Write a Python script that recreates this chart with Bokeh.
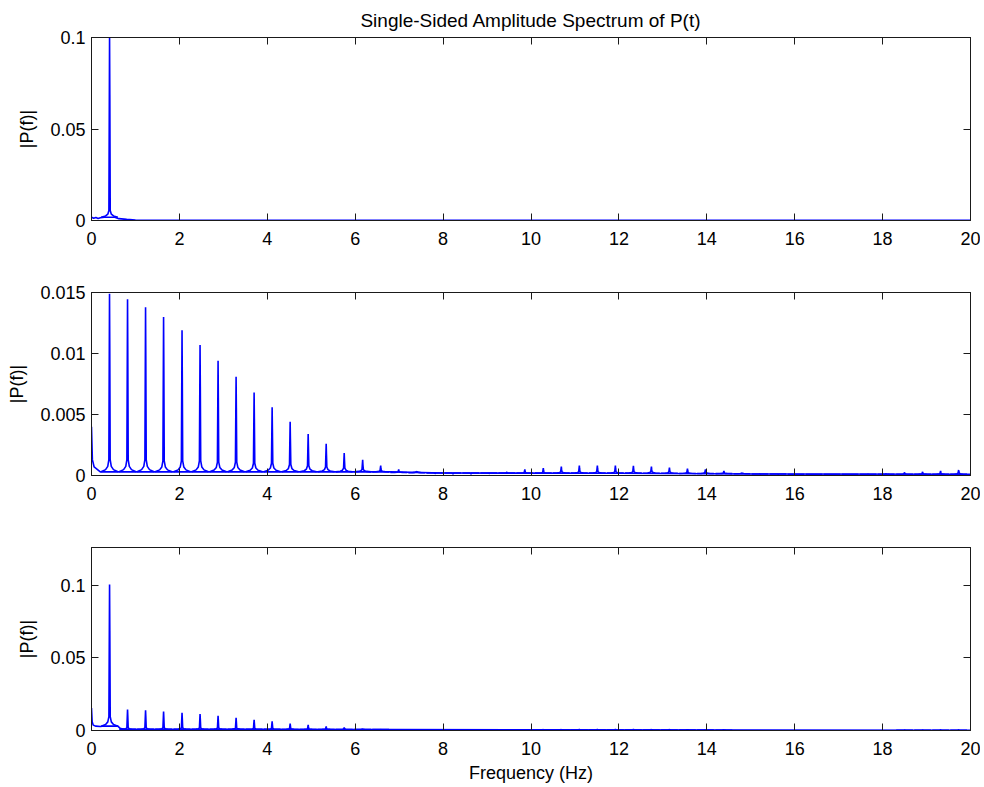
from bokeh.plotting import figure
from bokeh.layouts import column
from bokeh.models import LinearAxis, FixedTicker, CustomJSTickFormatter, Range1d
from bokeh.embed import file_html
from bokeh.resources import INLINE

# ---------------- data ----------------
title_text = "Single-Sided Amplitude Spectrum of P(t)"
y_label = "|P(f)|"
x_label = "Frequency (Hz)"

x_ticks = [0, 2, 4, 6, 8, 10, 12, 14, 16, 18, 20]
x_tick_labels = ["0", "2", "4", "6", "8", "10", "12", "14", "16", "18", "20"]

p1_y_ticks = [0, 0.05, 0.1]
p1_y_tick_labels = ["0", "0.05", "0.1"]
p2_y_ticks = [0, 0.005, 0.01, 0.015]
p2_y_tick_labels = ["0", "0.005", "0.01", "0.015"]
p3_y_ticks = [0, 0.05, 0.1]
p3_y_tick_labels = ["0", "0.05", "0.1"]

p1_y_max = 0.1
p2_y_max = 0.015
p3_y_max = 0.126

# adjacent-bin level of each spike, as a share of the spike height
adjacent_share = 0.68
# shape of the leakage skirt on each side of a spike: share of (skirt - base)
skirt_profile = [1.0, 0.45, 0.18, 0.0]

# Panel 1: fundamental only
p1_f = [0.411]
p1_h = [0.1005]
p1_skirt = [0.0055]
p1_base = [0.0018]
p1_floor_f = [0.0, 0.05, 0.1, 0.15, 0.2, 0.25, 0.29, 0.53, 0.62, 0.8, 1.0, 1.5, 20.0]
p1_floor_v = [0.0018, 0.0012, 0.0016, 0.0011, 0.0015, 0.0017, 0.0018, 0.0018, 0.001, 0.0006, 0.0003, 0.0001, 0.00005]

# Panel 2: harmonics
p2_f = [0.41, 0.82, 1.23, 1.64, 2.06, 2.47, 2.88, 3.29, 3.70, 4.11, 4.52, 4.93,
        5.34, 5.75, 6.17, 6.58, 6.99, 7.40, 7.81, 8.22, 8.63, 9.04, 9.45, 9.86,
        10.28, 10.69, 11.10, 11.51, 11.92, 12.33, 12.74, 13.15, 13.56, 13.97, 14.39, 14.80,
        15.21, 15.62, 16.03, 16.44, 16.85, 17.26, 17.67, 18.08, 18.50, 18.91, 19.32, 19.73]
p2_h = [0.0149, 0.01445, 0.0138, 0.0130, 0.0119, 0.0107, 0.0094, 0.0081, 0.0068, 0.0056, 0.0044, 0.0034,
        0.0026, 0.00185, 0.00128, 0.00082, 0.0005, 0.00033, 0.0002, 0.00015, 0.00015, 0.0002, 0.0003, 0.0005,
        0.0006, 0.00073, 0.00082, 0.00082, 0.00082, 0.0008, 0.00073, 0.00065, 0.00057, 0.0005, 0.00037, 0.0002,
        0.00015, 0.00012, 0.0001, 0.0001, 0.0001, 0.0001, 0.00012, 0.00015, 0.00025, 0.0003, 0.00037, 0.00045]
p2_skirt = [0.0013, 0.0013, 0.0013, 0.0012, 0.0012, 0.0012, 0.0011, 0.0011, 0.001, 0.001, 0.0009, 0.0008,
            0.0007, 0.0006, 0.0005, 0.0004, 0.0003, 0.0003, 0.0002, 0.0002, 0.0002, 0.0002, 0.0002, 0.00025,
            0.00025, 0.0003, 0.0003, 0.0003, 0.0003, 0.0003, 0.0003, 0.00028, 0.00025, 0.00025, 0.0002, 0.00018,
            0.00012, 0.00012, 0.0001, 0.0001, 0.0001, 0.0001, 0.0001, 0.00012, 0.00014, 0.00015, 0.00016, 0.00018]
p2_base = [0.0003, 0.0003, 0.0003, 0.0003, 0.0003, 0.0003, 0.0003, 0.0003, 0.0003, 0.0003, 0.0003, 0.0003,
           0.0003, 0.0003, 0.0003, 0.0003, 0.00025, 0.00022, 0.0002, 0.0002, 0.0002, 0.0002, 0.0002, 0.0002,
           0.0002, 0.0002, 0.0002, 0.0002, 0.0002, 0.0002, 0.00019, 0.00018, 0.00017, 0.00016, 0.00015, 0.00014,
           0.00012, 0.00012, 0.0001, 0.0001, 0.0001, 0.0001, 0.0001, 0.0001, 0.0001, 0.0001, 0.0001, 0.0001]
p2_floor_f = [0.0, 0.02, 0.06, 0.2, 6.8, 8.0, 12.0, 15.0, 20.0]
p2_floor_v = [0.0040, 0.0013, 0.0007, 0.0003, 0.0003, 0.0002, 0.00018, 0.00012, 0.0001]

# Panel 3: combined spectrum
p3_f = [0.411, 0.82, 1.23, 1.64, 2.06, 2.47, 2.88, 3.29, 3.70, 4.11, 4.52, 4.93,
        5.34, 5.75, 6.17, 6.58, 9.45, 9.86, 10.28, 10.69, 11.10, 11.51, 11.92, 12.33,
        12.74, 13.15, 13.56, 13.97, 14.39, 18.50, 18.91, 19.32, 19.73]
p3_h = [0.1005, 0.0145, 0.0139, 0.0130, 0.0122, 0.0113, 0.0101, 0.0088, 0.0074, 0.0063, 0.0048, 0.0039,
        0.0028, 0.0021, 0.0012, 0.0007, 0.0005, 0.0006, 0.0007, 0.0008, 0.0009, 0.0009, 0.0009, 0.0009,
        0.0008, 0.0007, 0.0006, 0.0006, 0.0005, 0.0004, 0.0004, 0.0005, 0.0005]
p3_skirt = [0.0095, 0.0018, 0.0018, 0.0017, 0.0017, 0.0016, 0.0016, 0.0015, 0.0014, 0.0013, 0.0012, 0.0011,
            0.001, 0.0009, 0.0008, 0.0007, 0.0004, 0.0004, 0.0004, 0.0004, 0.0004, 0.0004, 0.0004, 0.0004,
            0.0004, 0.0004, 0.0004, 0.0004, 0.0003, 0.0002, 0.0002, 0.0002, 0.0002]
p3_base = [0.0030, 0.0008, 0.0008, 0.0008, 0.0008, 0.0008, 0.0008, 0.0008, 0.0008, 0.0008, 0.0007, 0.0007,
           0.0007, 0.0007, 0.0007, 0.0006, 0.0003, 0.0003, 0.0003, 0.0003, 0.0003, 0.0003, 0.0003, 0.0003,
           0.0003, 0.0003, 0.0003, 0.0003, 0.0002, 0.0002, 0.0002, 0.0002, 0.0002]
p3_floor_f = [0.0, 0.015, 0.04, 0.1, 0.2, 0.25, 0.6, 0.64, 0.7, 0.8, 6.8, 10.0, 20.0]
p3_floor_v = [0.0154, 0.006, 0.0037, 0.003, 0.0028, 0.003, 0.003, 0.0018, 0.0011, 0.0008, 0.0007, 0.0004, 0.0002]

# ---------------- styling ----------------
FONT = "Liberation Sans"
FS = "18px"
TITLE_FS = "19px"
BLUE = "#0000ff"
AX = "#1a1a1a"
LW = 1.6
SKIRT_OFFSETS = [0.015, 0.04, 0.09, 0.19]   # Hz from the spike centre
ADJ_W = 0.006


def label_formatter(ticks, labels):
    return CustomJSTickFormatter(args=dict(t=ticks, l=labels), code="""
        let best = 0;
        for (let i = 0; i < t.length; i++) {
            if (Math.abs(t[i] - tick) < Math.abs(t[best] - tick)) { best = i; }
        }
        return l[best];
    """)


def style_axis(ax):
    ax.major_tick_in = 7
    ax.major_tick_out = 0
    ax.minor_tick_in = 0
    ax.minor_tick_out = 0
    ax.axis_line_color = AX
    ax.major_tick_line_color = AX
    ax.major_label_text_font = FONT
    ax.major_label_text_font_size = FS
    ax.major_label_text_color = "black"
    ax.axis_label_text_font = FONT
    ax.axis_label_text_font_size = FS
    ax.axis_label_text_font_style = "normal"
    ax.axis_label_text_color = "black"


def make_panel(y_max, y_ticks, y_tick_labels, top, bottom, f, h, skirt, base, floor_f, floor_v,
               title=None, xlabel=None):
    p = figure(frame_width=879, frame_height=183,
               x_range=Range1d(0, 20), y_range=Range1d(0, y_max),
               output_backend="svg", toolbar_location=None,
               min_border_left=91, min_border_right=10,
               min_border_top=top, min_border_bottom=bottom)
    p.background_fill_color = "white"
    p.border_fill_color = "white"
    p.outline_line_color = AX
    p.xgrid.visible = False
    p.ygrid.visible = False

    p.xaxis.ticker = FixedTicker(ticks=x_ticks)
    p.yaxis.ticker = FixedTicker(ticks=y_ticks)
    p.xaxis.formatter = label_formatter(x_ticks, x_tick_labels)
    p.yaxis.formatter = label_formatter(y_ticks, y_tick_labels)
    for ax in p.xaxis + p.yaxis:
        style_axis(ax)
    p.xaxis.major_label_standoff = 11
    p.yaxis.major_label_standoff = 6
    p.yaxis.axis_label = y_label
    p.yaxis.axis_label_standoff = 10
    if xlabel:
        p.xaxis.axis_label = xlabel
        p.xaxis.axis_label_standoff = 5

    top_ax = LinearAxis(ticker=FixedTicker(ticks=x_ticks),
                        formatter=CustomJSTickFormatter(code="return ''"))
    right_ax = LinearAxis(ticker=FixedTicker(ticks=y_ticks),
                          formatter=CustomJSTickFormatter(code="return ''"))
    for ax in (top_ax, right_ax):
        style_axis(ax)
        ax.major_label_standoff = 0
        ax.major_label_text_font_size = "1px"
    p.add_layout(top_ax, "above")
    p.add_layout(right_ax, "right")

    if title:
        p.title.text = title
        p.title.align = "center"
        p.title.text_font = FONT
        p.title.text_font_size = TITLE_FS
        p.title.text_font_style = "normal"
        p.title.text_color = "black"
        p.title.standoff = 13

    # floor of the spectrum
    p.line(floor_f, floor_v, line_color=BLUE, line_width=LW)
    # each spectral peak: leakage skirt, spike and adjacent bin
    xs, ys = [], []
    for fi, hi, si, bi in zip(f, h, skirt, base):
        left_x = [fi - o for o in reversed(SKIRT_OFFSETS)]
        left_y = [bi + (si - bi) * s for s in reversed(skirt_profile)]
        right_x = [fi + o for o in SKIRT_OFFSETS]
        right_y = [bi + (si - bi) * s for s in skirt_profile]
        xs.append(left_x + [fi, fi + ADJ_W] + right_x)
        ys.append(left_y + [hi, hi * adjacent_share] + right_y)
    p.multi_line(xs, ys, line_color=BLUE, line_width=LW)
    return p


p1 = make_panel(p1_y_max, p1_y_ticks, p1_y_tick_labels, 37, 40,
                p1_f, p1_h, p1_skirt, p1_base, p1_floor_f, p1_floor_v, title=title_text)
p2 = make_panel(p2_y_max, p2_y_ticks, p2_y_tick_labels, 32, 40,
                p2_f, p2_h, p2_skirt, p2_base, p2_floor_f, p2_floor_v)
p3 = make_panel(p3_y_max, p3_y_ticks, p3_y_tick_labels, 32, 54,
                p3_f, p3_h, p3_skirt, p3_base, p3_floor_f, p3_floor_v, xlabel=x_label)

layout = column(p1, p2, p3, spacing=0)
open("out.html", "w").write(file_html(layout, INLINE))
